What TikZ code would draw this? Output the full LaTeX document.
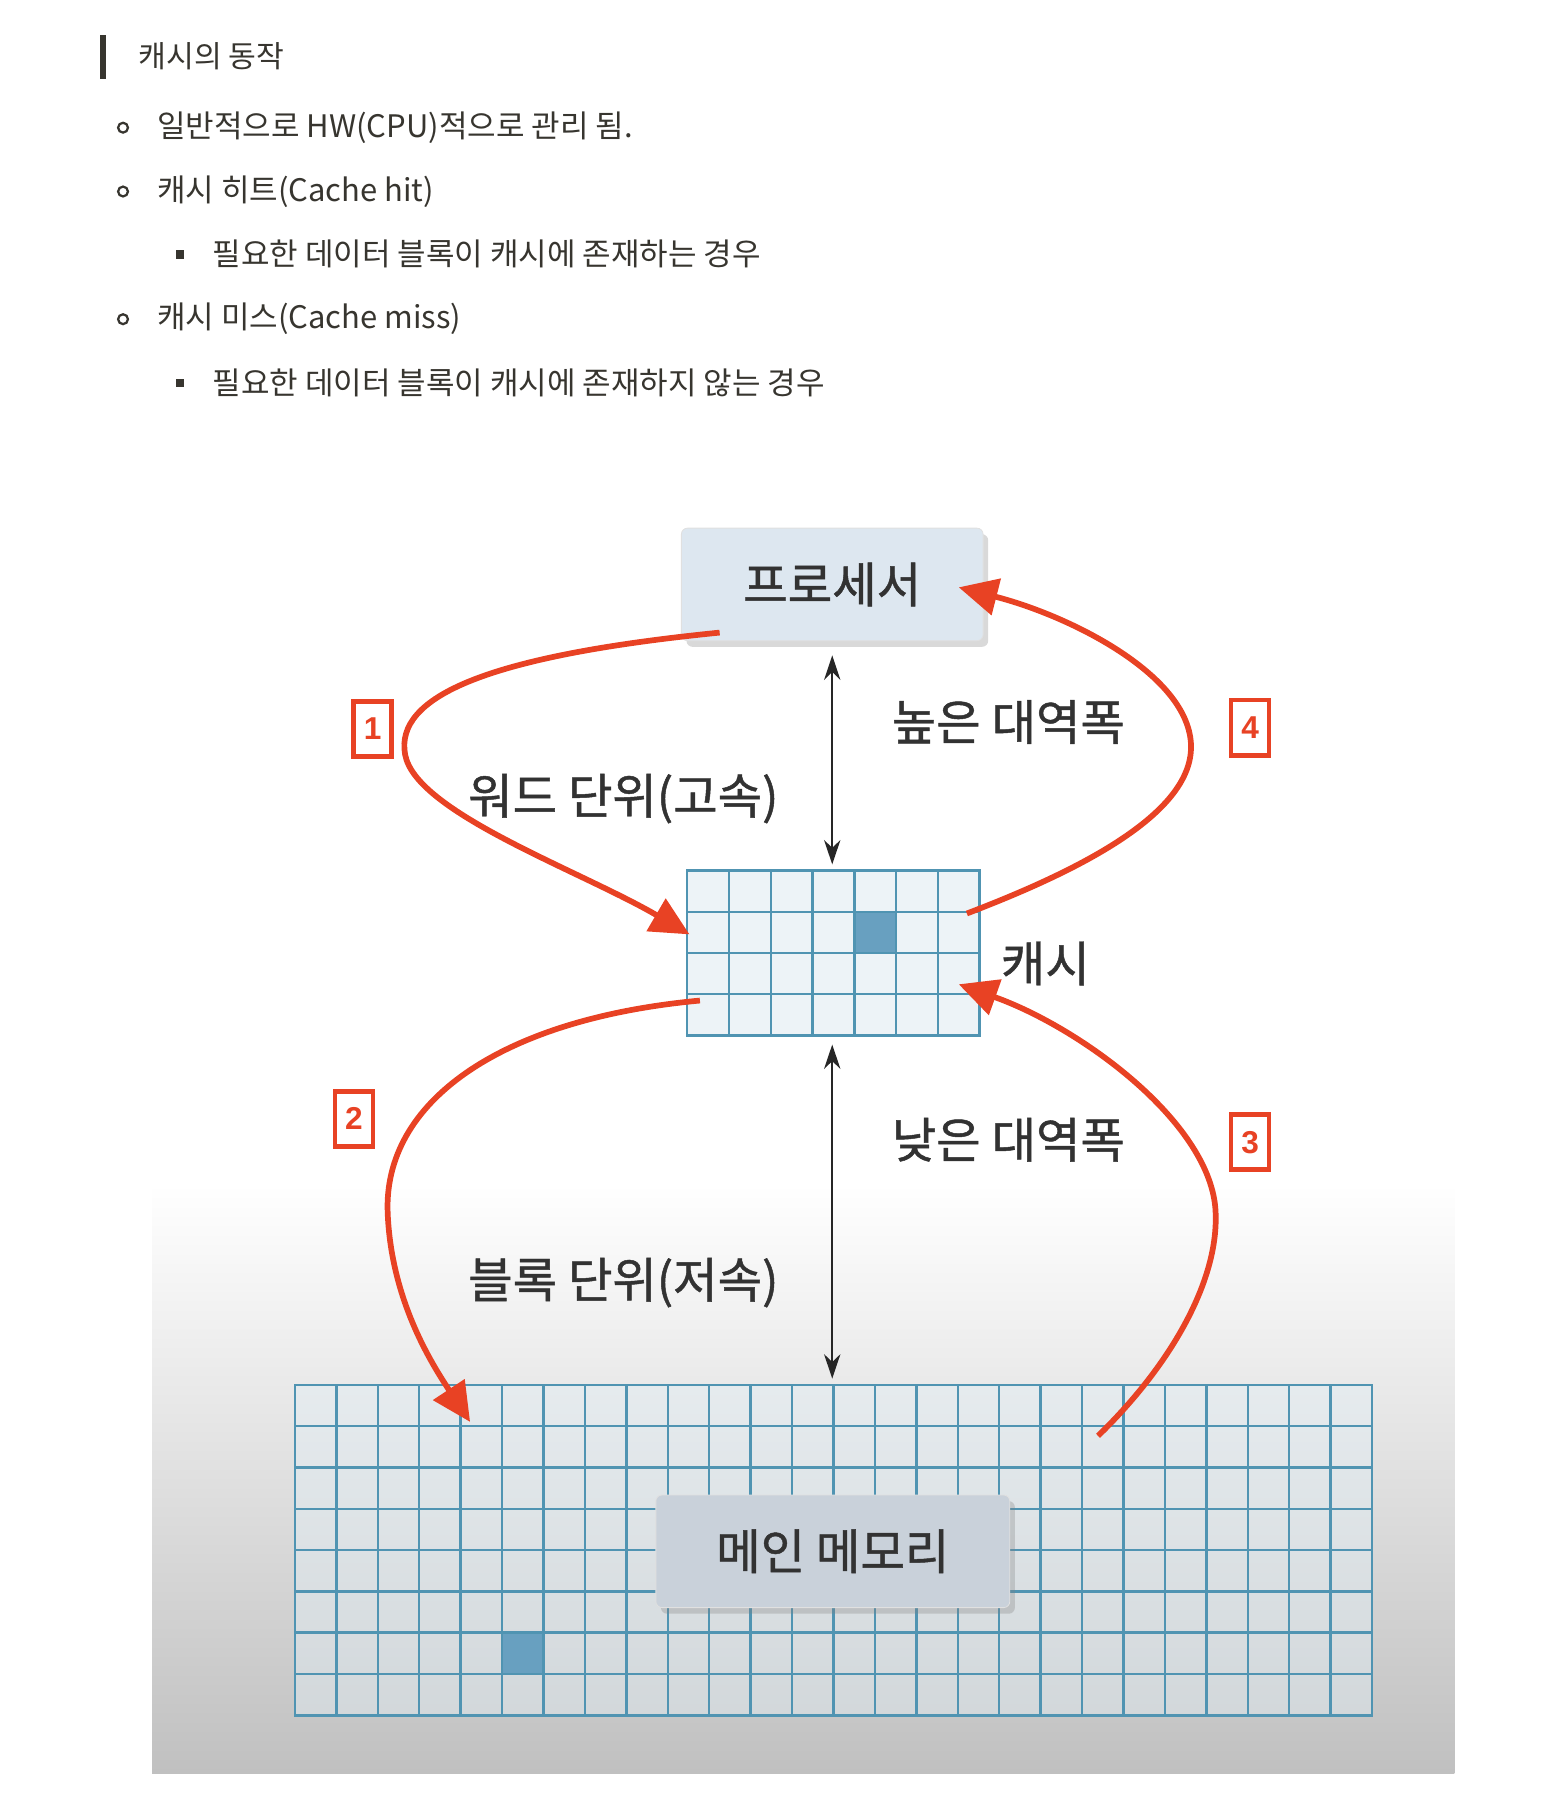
\documentclass[tikz,border=0pt]{standalone}
\usepackage{fontspec}
\setmainfont{Noto Sans CJK KR}
\newfontfamily\numfont{Liberation Sans}
\newfontfamily\diagfont[FakeBold=1]{Noto Sans CJK KR}
\usetikzlibrary{arrows.meta,shadows}

\definecolor{notetext}{RGB}{55,53,47}
\definecolor{labeltext}{RGB}{50,50,50}
\definecolor{missred}{RGB}{232,66,36}
\definecolor{cellline}{RGB}{80,148,178}
\definecolor{cachecell}{RGB}{237,243,247}
\definecolor{memcell}{RGB}{226,238,245}
\definecolor{marked}{RGB}{104,160,192}
\definecolor{cpufill}{RGB}{221,231,240}
\definecolor{memfill}{RGB}{201,209,218}
\definecolor{bgbottom}{RGB}{192,192,192}

\begin{document}
\begin{tikzpicture}[x=0.02cm, y=-0.02cm,
  notebody/.style={anchor=west, inner sep=0, text=notetext, font=\fontsize{15.2pt}{18pt}\selectfont},
  ringbullet/.style={circle, draw=notetext, line width=1.1pt, inner sep=0, minimum size=0.17cm},
  sqbullet/.style={fill=notetext, inner sep=0, minimum size=0.15cm},
  lbl/.style={anchor=west, inner sep=0, text=labeltext, font=\diagfont\fontsize{23.7pt}{28pt}\selectfont},
  gridbox/.style={draw=cellline, line width=1.2pt, inner sep=0, outer sep=0},
  unitbox/.style={draw=black!12, rounded corners=3pt, text=labeltext, inner sep=0,
    font=\diagfont\fontsize{23.7pt}{28pt}\selectfont, minimum height=1.94cm,
    drop shadow={shadow xshift=2.5pt, shadow yshift=-3pt, opacity=0.3}},
  stepno/.style={draw=missred, line width=2.2pt, fill=white, text=missred, inner sep=0,
    minimum width=0.66cm, minimum height=0.95cm, font=\numfont\bfseries\fontsize{15.5pt}{18pt}\selectfont},
  flow/.style={draw=missred, line width=2.8pt, -{Triangle[length=19pt,width=18pt]}},
  band/.style={black!85, line width=1.1pt, {Stealth[length=12pt,width=8pt]}-{Stealth[length=12pt,width=8pt]}}
]
\useasboundingbox (0,0) rectangle (1328,1568);

% notes
\fill[notetext] (86,30) rectangle (91,68);
\node[notebody, font=\fontsize{14.8pt}{17pt}\selectfont] (title) at (119,48) {캐시의 동작};
\node[ringbullet] (r1) at (106,110) {};
\node[notebody] (t1) at (135,110) {일반적으로 HW(CPU)적으로 관리 됨.};
\node[ringbullet] (r2) at (106,165) {};
\node[notebody] (t2) at (135,165) {캐시 히트(Cache hit)};
\node[sqbullet] (s1) at (155,219) {};
\node[notebody] (t3) at (183,219) {필요한 데이터 블록이 캐시에 존재하는 경우};
\node[ringbullet] (r3) at (106,275) {};
\node[notebody] (t4) at (135,275) {캐시 미스(Cache miss)};
\node[sqbullet] (s2) at (155,330) {};
\node[notebody] (t5) at (183,330) {필요한 데이터 블록이 캐시에 존재하지 않는 경우};

% diagram
\shade[top color=white, bottom color=bgbottom] (131,1020) rectangle (1253,1528);

\node[gridbox, fill=memcell, fill opacity=0.45, minimum width=18.56cm, minimum height=5.7cm] (mem) at (718,1335.5) {};
\fill[marked] (432.5,1406.6) rectangle (468.2,1442.2);
\begin{scope}[shift={(mem.north west)}]
\draw[cellline, line width=1.2pt] (0,285) grid[xstep=0.714cm, ystep=0.712cm] (928,0);
\end{scope}
\node[unitbox, fill=memfill, minimum width=6.1cm] (memlabel) at (717.5,1336.5) {메인 메모리};

\node[gridbox, fill=cachecell, minimum width=5.04cm, minimum height=2.84cm] (cache) at (718,821) {};
\fill[marked] (736,785.5) rectangle (772,821);
\begin{scope}[shift={(cache.north west)}]
\draw[cellline, line width=1.2pt] (0,142) grid[xstep=0.72cm, ystep=0.71cm] (252,0);
\end{scope}

\node[unitbox, fill=cpufill, minimum width=5.2cm] (cpu) at (717,503.5) {프로세서};

\draw[band, shorten <=7pt, shorten >=3pt] (cpu.south) -- (cpu.south |- cache.north);
\draw[band, shorten <=4.5pt, shorten >=3pt] (cpu.south |- cache.south) -- (cpu.south |- mem.north);

\coordinate (out1) at (620,545);
\coordinate (in1) at (594,805);
\coordinate (out2) at (603,862);
\coordinate (in2) at (405,1225);
\coordinate (out3) at (946,1237);
\coordinate (in3) at (826,848);
\coordinate (out4) at (833,787);
\coordinate (in4) at (826,506);

\draw[flow] (out1) .. controls (420,565) and (340,600) .. (349,650) .. controls (358,700) and (500,750) .. (in1);
\draw[flow] (out2) .. controls (430,878) and (330,950) .. (334,1045) .. controls (337,1120) and (372,1175) .. (in2);
\draw[flow] (out3) .. controls (1010,1175) and (1052,1100) .. (1047,1040) .. controls (1040,965) and (930,885) .. (in3);
\draw[flow] (out4) .. controls (930,750) and (1030,700) .. (1026,640) .. controls (1022,580) and (920,530) .. (in4);

\node[stepno] (n1) at (321,628) {1};
\node[stepno] (n2) at (305,964) {2};
\node[stepno] (n3) at (1077,984) {3};
\node[stepno] (n4) at (1077,627) {4};

\node[lbl] (high) at (768,622) {높은 대역폭};
\node[lbl] (word) at (403,688) {워드 단위(고속)};
\node[lbl] (cachename) at (862,830) {캐시};
\node[lbl] (low) at (768,982) {낮은 대역폭};
\node[lbl] (block) at (403,1105) {블록 단위(저속)};
\end{tikzpicture}
\end{document}
